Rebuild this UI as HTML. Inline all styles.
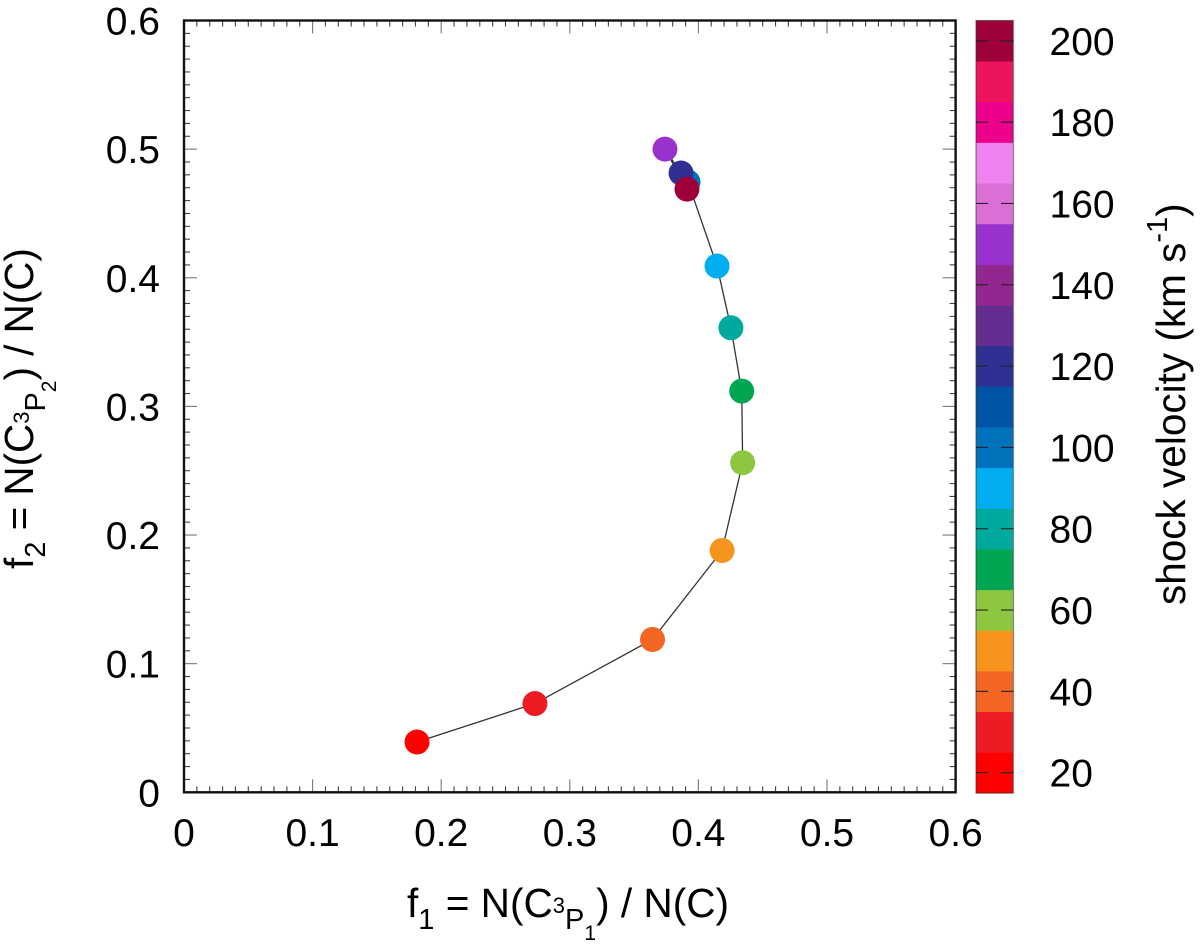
<!DOCTYPE html>
<html lang="en">
<head>
<meta charset="utf-8">
<title>Shock velocity chart</title>
<style>
html,body{margin:0;padding:0;background:#fff;}
svg{display:block;}
text{font-family:"Liberation Sans",sans-serif;fill:#000;}
</style>
</head>
<body>
<svg id="chart" xmlns="http://www.w3.org/2000/svg" width="1200" height="944" viewBox="0 0 1200 944">
  <rect x="0" y="0" width="1200" height="944" fill="#fff"/>
  <g id="colorbar"></g>
  <g id="ticks"></g>
  <g id="series"></g>
  <rect x="184" y="20.5" width="771.6" height="771.8" fill="none" stroke="#111" stroke-width="2.4"/>
  <g id="labels"></g>
  <text transform="translate(407,917)" font-size="40.6" xml:space="preserve">f<tspan font-size="29" dy="12">1</tspan><tspan dy="-12"> = N(C</tspan><tspan font-size="22" dy="-4">3</tspan><tspan font-size="29" dy="16">P</tspan><tspan font-size="21" dy="11">1</tspan><tspan dy="-23">) / N(C)</tspan></text>
  <text transform="translate(33,569) rotate(-90)" font-size="40.4" xml:space="preserve">f<tspan font-size="29" dy="12">2</tspan><tspan dy="-12"> = N(C</tspan><tspan font-size="22" dy="-4">3</tspan><tspan font-size="29" dy="16">P</tspan><tspan font-size="21" dy="11">2</tspan><tspan dy="-23">) / N(C)</tspan></text>
  <text transform="translate(1185,605) rotate(-90)" font-size="40.5" xml:space="preserve">shock velocity (km s<tspan font-size="29" dy="-18">-1</tspan><tspan dy="18">)</tspan></text>
</svg>
<script>
var velocities = [20, 30, 40, 50, 60, 70, 80, 90, 100, 120, 150, 200];
var f1Values = [0.1812, 0.2729, 0.3643, 0.4184, 0.4344, 0.4337, 0.4253, 0.4145, 0.3919, 0.3865, 0.374, 0.3911];
var f2Values = [0.0391, 0.069, 0.1188, 0.188, 0.2562, 0.3119, 0.3611, 0.4091, 0.4744, 0.4814, 0.5, 0.4689];
var paletteColors = ["#ff0000", "#ed1c24", "#f26522", "#f7941d", "#8dc63f", "#00a651", "#00a99d", "#00aeef", "#0072bc", "#0054a6", "#2e3192", "#662d91", "#92278f", "#9932cc", "#da70d6", "#ee82ee", "#ec008c", "#ed145b", "#9e0039"];
var axisTicks = [0, 0.1, 0.2, 0.3, 0.4, 0.5, 0.6];
var axisTickLabels = ["0", "0.1", "0.2", "0.3", "0.4", "0.5", "0.6"];
var colorTicks = [20, 40, 60, 80, 100, 120, 140, 160, 180, 200];
var colorMin = 15;
var colorMax = 205;
var colorStep = 10;
var minorStep = 0.01;
var axisMax = 0.6;

var NS = "http://www.w3.org/2000/svg";
function xScale(v) { return 184 + v / axisMax * 771.6; }
function yScale(v) { return 792.3 - v / axisMax * 771.8; }
function cScale(v) { return 793 - (v - colorMin) / (colorMax - colorMin) * 772.5; }
function colorFor(v) {
  var i = Math.floor((v - colorMin) / colorStep);
  return paletteColors[Math.max(0, Math.min(paletteColors.length - 1, i))];
}
function make(tag, parent, attrs) {
  var el = document.createElementNS(NS, tag);
  for (var k in attrs) { el.setAttribute(k, attrs[k]); }
  parent.appendChild(el);
  return el;
}

var barGroup = document.getElementById("colorbar");
var tickGroup = document.getElementById("ticks");
var seriesGroup = document.getElementById("series");
var labelGroup = document.getElementById("labels");

paletteColors.forEach(function (c, i) {
  var lo = colorMin + i * colorStep;
  var seg = make("rect", barGroup, { x: 976, y: cScale(lo + colorStep), width: 37, height: cScale(lo) - cScale(lo + colorStep) + 0.4, fill: c });
  
  
});
var barFrame = make("rect", barGroup, { x: 976, y: 20.5, width: 37.5, height: 772.5, fill: "none", stroke: "#333", "stroke-opacity": 0.6, "stroke-width": 1.2 });



colorTicks.forEach(function (v) {
  var y = cScale(v);
  [[976, 988], [1001, 1013.5]].forEach(function (p) {
    var t = make("line", barGroup, { x1: p[0], x2: p[1], y1: y, y2: y, stroke: "#222", "stroke-width": 1.1 });
    
    
  });
  var lab = make("text", labelGroup, { x: 1049.5, y: y + 14, "font-size": 39 });
  
  
  lab.textContent = String(v);
});

var minorCount = Math.round(axisMax / minorStep);
for (var n = 1; n < minorCount; n++) {
  var val = n * minorStep;
  var major = n % 10 === 0;
  var len = major ? 13 : 6;
  var col = major ? "#777" : "#444";
  var px = xScale(val);
  var py = yScale(val);
  [[px, px, 792.3, 792.3 - len], [px, px, 20.5, 20.5 + len], [184, 184 + len, py, py], [955.6, 955.6 - len, py, py]].forEach(function (s) {
    var tk = make("line", tickGroup, { x1: s[0], x2: s[1], y1: s[2], y2: s[3], stroke: col, "stroke-width": 1.1 });
    
    
  });
}

axisTicks.forEach(function (v, i) {
  var xl = make("text", labelGroup, { x: xScale(v), y: 846, "font-size": 39, "text-anchor": "middle" });
  
  
  xl.textContent = axisTickLabels[i];
  var yl = make("text", labelGroup, { x: 160, y: yScale(v) + 14, "font-size": 39, "text-anchor": "end" });
  
  
  yl.textContent = axisTickLabels[i];
});

var pts = f1Values.map(function (f, i) { return xScale(f) + "," + yScale(f2Values[i]); }).join(" ");
var line = make("polyline", seriesGroup, { points: pts, fill: "none", stroke: "#333", "stroke-width": 1.3 });



velocities.forEach(function (v, i) {
  var dot = make("circle", seriesGroup, { cx: xScale(f1Values[i]), cy: yScale(f2Values[i]), r: 12.5, fill: colorFor(v) });
  
  
});
</script>
</body>
</html>
